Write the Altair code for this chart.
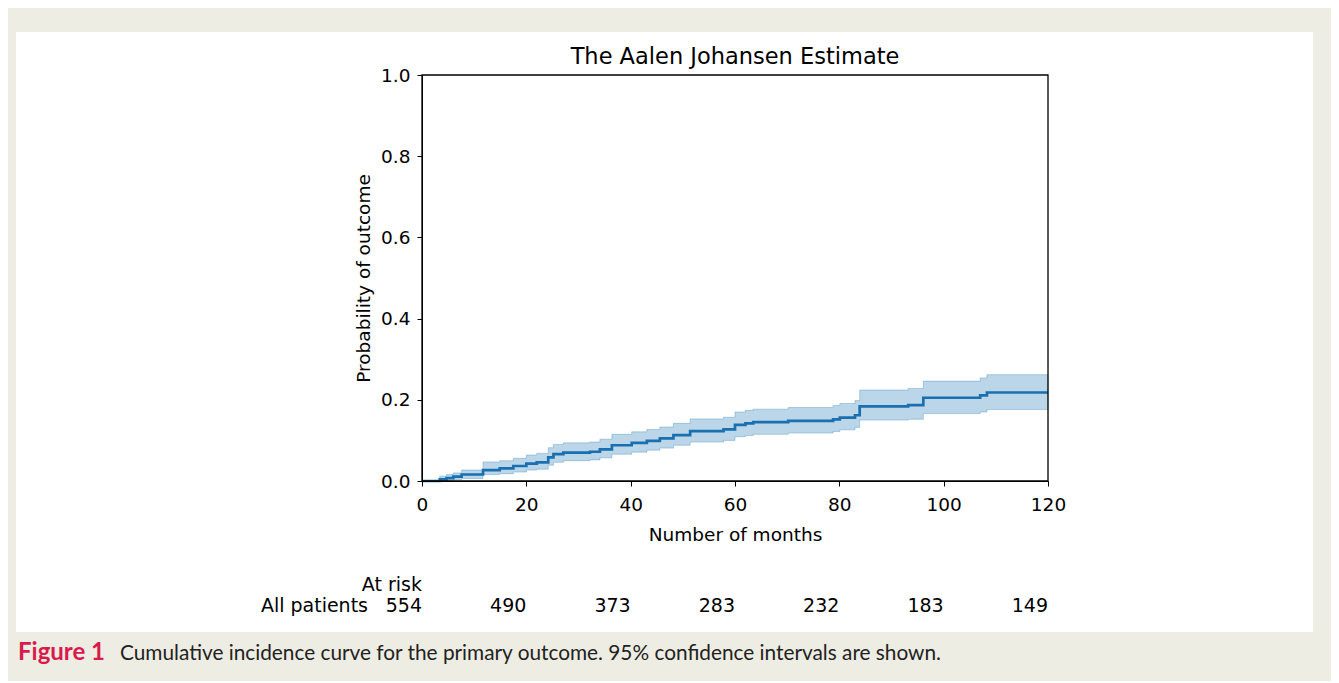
import altair as alt
import pandas as pd

# ---- data ----
months = [0, 3.4, 4.7, 6.0, 7.6, 11.7, 14.9, 17.5, 20.0, 22.0, 24.2, 25.2, 27.1, 32.2, 34.1,
          36.4, 40.2, 43.1, 45.6, 48.2, 51.4, 57.8, 60.0, 62.0, 63.5, 70.2, 78.8, 80.1, 83.0,
          83.9, 93.2, 96.1, 107.0, 108.3, 120]
estimate = [0, .004, .007, .011, .016, .027, .031, .037, .043, .046, .058, .066, .070, .072, .078,
            .088, .094, .099, .105, .113, .123, .127, .138, .142, .145, .148, .152, .156, .162,
            .184, .187, .205, .211, .218, .218]
lower = [0, 0, .001, .003, .006, .016, .018, .022, .027, .029, .039, .046, .050, .052, .057,
         .066, .071, .076, .081, .088, .096, .100, .109, .112, .115, .118, .122, .126, .132,
         .150, .152, .166, .170, .176, .176]
upper = [0, .012, .016, .020, .027, .047, .050, .056, .064, .068, .082, .090, .094, .096, .103,
         .115, .121, .127, .133, .142, .153, .157, .170, .174, .177, .181, .186, .191, .198,
         .224, .228, .246, .254, .262, .262]

risk_months = [0, 20, 40, 60, 80, 100, 120]
at_risk = [554, 490, 373, 283, 232, 183, 149]
x_ticks = [0, 20, 40, 60, 80, 100, 120]
y_ticks = [0.0, 0.2, 0.4, 0.6, 0.8, 1.0]

title = "The Aalen Johansen Estimate"
x_title = "Number of months"
y_title = "Probability of outcome"
caption_bold = "Figure 1"
caption_text = "Cumulative incidence curve for the primary outcome. 95% confidence intervals are shown."

curve = pd.DataFrame({"month": months, "est": estimate, "lower": lower, "upper": upper})
risk = pd.DataFrame({"month": risk_months, "n": [str(v) for v in at_risk]})
one = pd.DataFrame({"a": [0]})

FONT = "DejaVu Sans"
W, H = 626, 406
BLUE = "#1f77b4"

xscale = alt.Scale(domain=[0, 120], nice=False, zero=False)
yscale = alt.Scale(domain=[0, 1], nice=False)
xaxis = alt.Axis(values=x_ticks, format="d", grid=False, tickSize=5, tickColor="black",
                 domainColor="black", labelColor="black", labelFont=FONT, labelFontSize=18.5,
                 labelPadding=9, titleFont=FONT, titleFontSize=18.5, titleFontWeight="normal",
                 titleColor="black", titlePadding=12, zindex=2, labelFlush=False)
yaxis = alt.Axis(values=y_ticks, format=".1f", grid=False, tickSize=5, tickColor="black",
                 domainColor="black", labelColor="black", labelFont=FONT, labelFontSize=18.5,
                 labelPadding=7, titleFont=FONT, titleFontSize=18.5, titleFontWeight="normal",
                 titleColor="black", titlePadding=7, zindex=2, labelFlush=False)

X = alt.X("month:Q", scale=xscale, axis=xaxis, title=x_title)

panel = alt.Chart(one).mark_rect(color="white").encode(
    x=alt.value(-406), x2=alt.value(891), y=alt.value(-43), y2=alt.value(557))

band = alt.Chart(curve).mark_area(
    interpolate="step-after", color=BLUE, fillOpacity=0.3, stroke=BLUE, strokeOpacity=0.3,
    strokeWidth=1).encode(
    x=X,
    y=alt.Y("lower:Q", scale=yscale, axis=yaxis, title=y_title),
    y2="upper:Q")

line = alt.Chart(curve).mark_line(
    interpolate="step-after", color="#1a6fb0", strokeWidth=2.7).encode(
    x=X,
    y=alt.Y("est:Q", scale=yscale, axis=yaxis, title=y_title))

frame = alt.Chart(one).mark_rect(fillOpacity=0, stroke="black", strokeWidth=1.3).encode(
    x=alt.value(0), x2=alt.value(W), y=alt.value(0), y2=alt.value(H))

title_mark = alt.Chart(one).mark_text(
    align="center", baseline="alphabetic", font=FONT, fontSize=22.5, color="black",
    text=title).encode(x=alt.value(W / 2), y=alt.value(-11))

risk_nums = alt.Chart(risk).mark_text(
    align="right", baseline="alphabetic", font=FONT, fontSize=19, color="black").encode(
    x=X, y=alt.value(537), text="n:N")

risk_head = alt.Chart(one).mark_text(
    align="right", baseline="alphabetic", font=FONT, fontSize=19, color="black",
    text="At risk").encode(x=alt.value(0), y=alt.value(516))

risk_label = alt.Chart(one).mark_text(
    align="right", baseline="alphabetic", font=FONT, fontSize=19, color="black",
    text="All patients").encode(x=alt.value(-54), y=alt.value(537))

cap1 = alt.Chart(one).mark_text(
    align="left", baseline="alphabetic", font="Lato", fontSize=24, fontWeight="bold",
    color="#d81b4c", text=caption_bold).encode(x=alt.value(-404), y=alt.value(585))

cap2 = alt.Chart(one).mark_text(
    align="left", baseline="alphabetic", font="Lato", fontSize=20.8, color="#222222",
    text=caption_text).encode(x=alt.value(-302), y=alt.value(585))

chart = alt.layer(panel, band, line, frame, title_mark, risk_nums, risk_head, risk_label,
                  cap1, cap2).properties(
    width=W, height=H,
    autosize=alt.AutoSizeParams(type="none"),
    padding={"left": 414, "top": 67, "right": 283, "bottom": 200},
).configure(background="#eeede3").configure_view(stroke=None)

chart.save("out.html", embed_options={"renderer": "svg", "actions": False})
